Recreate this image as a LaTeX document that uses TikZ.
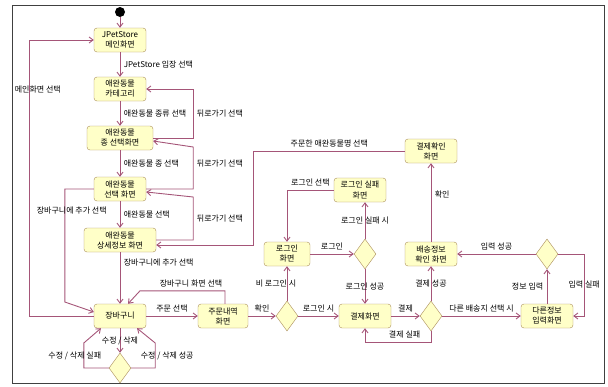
\documentclass[tikz,border=0pt]{standalone}
\usepackage{fontspec}
\setmainfont{Noto Sans CJK KR}
\usetikzlibrary{arrows.meta, shapes.geometric}

\definecolor{boxfill}{RGB}{255,255,200}
\definecolor{boxline}{RGB}{170,140,90}
\definecolor{flow}{RGB}{165,85,120}

\tikzset{
  state/.style={draw=boxline, fill=boxfill, rounded corners=3pt, align=center,
    minimum width=52pt, minimum height=24pt, inner sep=1pt},
  choice/.style={draw=boxline, fill=boxfill, diamond, minimum width=22pt,
    minimum height=30pt, inner sep=0pt},
  flowline/.style={draw=flow, line width=0.9pt, ->}
}

\begin{document}
\begin{tikzpicture}[x=1pt, y=-1pt, >={Straight Barb[length=4pt, width=6pt]},
    font=\fontsize{8}{10}\selectfont, text=black]
    \useasboundingbox (0,0) rectangle (608,386);
    \draw [black!75, line width=0.8pt] (12,5) rectangle (604,383);

    % screens
    \node (start) at (120,12) [circle, fill=black, minimum size=10pt, inner sep=0pt] {};
    \node (main) at (120,40) [state] {JPetStore\\메인화면};
    \node (category) at (120,89) [state] {애완동물\\카테고리};
    \node (species) at (120,138) [state, minimum width=66pt] {애완동물\\종 선택화면};
    \node (select) at (120,189) [state] {애완동물\\선택 화면};
    \node (detail) at (120,240) [state, minimum width=72pt] {애완동물\\상세정보 화면};
    \node (cart) at (120,316) [state] {장바구니};
    \node (order) at (223,316) [state, minimum width=50pt] {주문내역\\화면};
    \node (login) at (287,254) [state, minimum width=46pt] {로그인\\화면};
    \node (loginfail) at (360,190) [state] {로그인 실패\\화면};
    \node (pay) at (365,316) [state] {결제화면};
    \node (shipinfo) at (431,254) [state] {배송정보\\확인 화면};
    \node (payok) at (431,151) [state] {결제확인\\화면};
    \node (otherinfo) at (547,316) [state] {다른정보\\입력화면};

    % decisions
    \node (editchk) at (120,368) [choice] {};
    \node (loginchk) at (287,316) [choice] {};
    \node (loginok) at (365,254) [choice] {};
    \node (paychk) at (431,316) [choice] {};
    \node (inputchk) at (547,254) [choice] {};

    % main column
    \draw [flowline] (start) -- (main);
    \draw [flowline] (main) -- node [right] {JPetStore 입장 선택} (category);
    \draw [flowline] (category) -- node [right] {애완동물 종류 선택} (species);
    \draw [flowline] (species) -- node [right] {애완동물 종 선택} (select);
    \draw [flowline] (select) -- node [right] {애완동물 선택} (detail);
    \draw [flowline] (detail) -- node [right, pos=0.2] {장바구니에 추가 선택} (cart);

    % back
    \draw [flowline] (species.east) -- ++(40,0) |- node [right, pos=0.25] {뒤로가기 선택} (category.east);
    \draw [flowline] (select.east) -- ++(47,0) -- node [right, pos=0.6] {뒤로가기 선택} ++(0,-42) -- ([yshift=-3pt]species.east);
    \draw [flowline] (detail.east) -- ++(37,0) -- node [right] {뒤로가기 선택} ++(0,-43) -- ([yshift=-3pt]select.east);

    % left side
    \draw [flowline] (cart.west) -- ++(-64,0) |- node [pos=0.41, xshift=8pt] {메인화면 선택} (main.west);
    \draw [flowline] (select.west) -- ++(-29,0) -- node [pos=0.19, xshift=7pt] {장바구니에 추가 선택} ++(0,113) -- ([yshift=4pt]cart.west);

    % order and login
    \draw [flowline] (cart) -- node [above] {주문 선택} (order);
    \draw [flowline] ([xshift=2pt]order.north) -- ++(0,-13) -- node [above, pos=0.4] {장바구니 화면 선택} ++(-85,0) -- ([xshift=8pt]cart.north);
    \draw [flowline] (order) -- node [above] {확인} (loginchk);
    \draw [flowline] (loginchk) -- node [xshift=-11pt] {비 로그인 시} (login);
    \draw [flowline] (loginchk) -- node [above] {로그인 시} (pay);
    \draw [flowline] (login) -- node [above] {로그인} (loginok);
    \draw [flowline] (loginok) -- node {로그인 실패 시} (loginok |- loginfail.south);
    \draw [flowline] (loginfail.west) -| node [above, pos=0.25] {로그인 선택} (login.north);
    \draw [flowline] (loginok) -- node {로그인 성공} (pay);

    % payment
    \draw [flowline] (pay) -- node [above] {결제} (paychk);
    \draw [flowline] (paychk.south) -- ++(0,11) -| node [above, pos=0.2] {결제 실패} (pay.south);
    \draw [flowline] (paychk) -- node {결제 성공} (shipinfo);
    \draw [flowline] (paychk) -- node [above] {다른 배송지 선택 시} (otherinfo);
    \draw [flowline] (otherinfo) -- node [left] {정보 입력} (inputchk);
    \draw [flowline] (inputchk.east) -- ++(26,0) |- node [pos=0.25] {입력 실패} (otherinfo.east);
    \draw [flowline] (inputchk) -- node [above] {입력 성공} (shipinfo);
    \draw [flowline] (shipinfo) -- node [right, pos=0.6] {확인} (payok);
    \draw [flowline] (payok.west) -- node [above] {주문한 애완동물명 선택} ++(-151,0) |- ([yshift=-5pt]detail.east);

    % edit loop
    \draw [flowline] (cart) -- node {수정 / 삭제} (editchk);
    \draw [flowline] (editchk.west) -- ++(-25,0) -- node [xshift=-9pt] {수정 / 삭제 실패} ++(0,-25) -- ([xshift=-19pt]cart.south);
    \draw [flowline] (editchk.east) -- ++(24,0) -- node [xshift=12pt] {수정 / 삭제 성공} ++(0,-25) -- ([xshift=17pt]cart.south);
\end{tikzpicture}
\end{document}
